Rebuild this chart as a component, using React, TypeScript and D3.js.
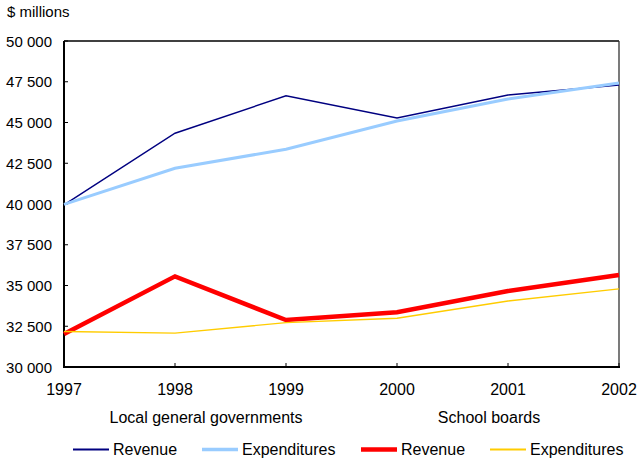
import React from "react";
import * as d3 from "d3";

const years = [1997, 1998, 1999, 2000, 2001, 2002];
const localRevenue = [39950, 44340, 46640, 45280, 46690, 47300];
const localExpenditures = [39980, 42190, 43360, 45090, 46440, 47420];
const schoolRevenue = [32020, 35560, 32880, 33360, 34660, 35640];
const schoolExpenditures = [32180, 32080, 32720, 32990, 34050, 34790];
const yTicks = [30000, 32500, 35000, 37500, 40000, 42500, 45000, 47500, 50000];
const groupLabels = ["Local general governments", "School boards"];
const legendLabels = ["Revenue", "Expenditures", "Revenue", "Expenditures"];

const W = 637, H = 462;
const left = 64, right = 619, top = 41, bottom = 367;
const FONT = "Liberation Sans, Arial, sans-serif";

export default function App() {
  const x = d3.scalePoint<number>().domain(years).range([left, right]);
  const y = d3.scaleLinear().domain([30000, 50000]).range([bottom, top]);
  const fmt = (v: number) => d3.format(",")(v).replace(/,/g, " ");
  const line = d3
    .line<number>()
    .x((_, i) => x(years[i]) as number)
    .y((d) => y(d));

  const series = [
    { data: localRevenue, color: "#000080", width: 1.4, lw: 2 },
    { data: localExpenditures, color: "#99ccff", width: 3, lw: 3.5 },
    { data: schoolRevenue, color: "#ff0000", width: 4.5, lw: 4.5 },
    { data: schoolExpenditures, color: "#ffcc00", width: 1.4, lw: 2 },
  ];
  const legendX = [73, 202, 361, 490];

  return (
    <svg
      width={W}
      height={H}
      style={{ position: "absolute", left: 0, top: 0, background: "#fff" }}
      fontFamily={FONT}
    >
      <rect x={0} y={0} width={W} height={H} fill="#fff" />
      <text x={7} y={17} fontSize={15} fill="#000">$ millions</text>
      {/* frame */}
      <line x1={left} x2={right} y1={top} y2={top} stroke="#000" strokeWidth={1.5} />
      <line x1={right} x2={right} y1={top} y2={bottom} stroke="#333" strokeWidth={1.3} />
      {yTicks.map((t) => (
        <g key={t}>
          <line x1={left} x2={left + 4} y1={y(t)} y2={y(t)} stroke="#000" strokeWidth={1} />
          <text x={52} y={y(t) + 5.5} fontSize={15} textAnchor="end" fill="#000">
            {fmt(t)}
          </text>
        </g>
      ))}
      {years.map((yr) => (
        <g key={yr}>
          <line x1={x(yr)} x2={x(yr)} y1={bottom} y2={bottom - 4} stroke="#000" strokeWidth={1} />
          <text x={x(yr)} y={395} fontSize={16} textAnchor="middle" fill="#000">
            {yr}
          </text>
        </g>
      ))}
      <line x1={left} x2={left} y1={top} y2={bottom + 1} stroke="#000" strokeWidth={2} />
      <line x1={left - 1} x2={right + 1} y1={bottom} y2={bottom} stroke="#000" strokeWidth={2} />
      <text x={206} y={423} fontSize={16} textAnchor="middle" fill="#000">{groupLabels[0]}</text>
      <text x={489} y={423} fontSize={16} textAnchor="middle" fill="#000">{groupLabels[1]}</text>
      {series.map((s, i) => (
        <path
          key={i}
          d={line(s.data) || ""}
          fill="none"
          stroke={s.color}
          strokeWidth={s.width}
          strokeLinejoin="miter"
        />
      ))}
      {series.map((s, i) => (
        <g key={"lg" + i}>
          <line
            x1={legendX[i]}
            x2={legendX[i] + 36}
            y1={449.5}
            y2={449.5}
            stroke={s.color}
            strokeWidth={s.lw}
          />
          <text x={legendX[i] + 40} y={455} fontSize={16} fill="#000">
            {legendLabels[i]}
          </text>
        </g>
      ))}
    </svg>
  );
}
